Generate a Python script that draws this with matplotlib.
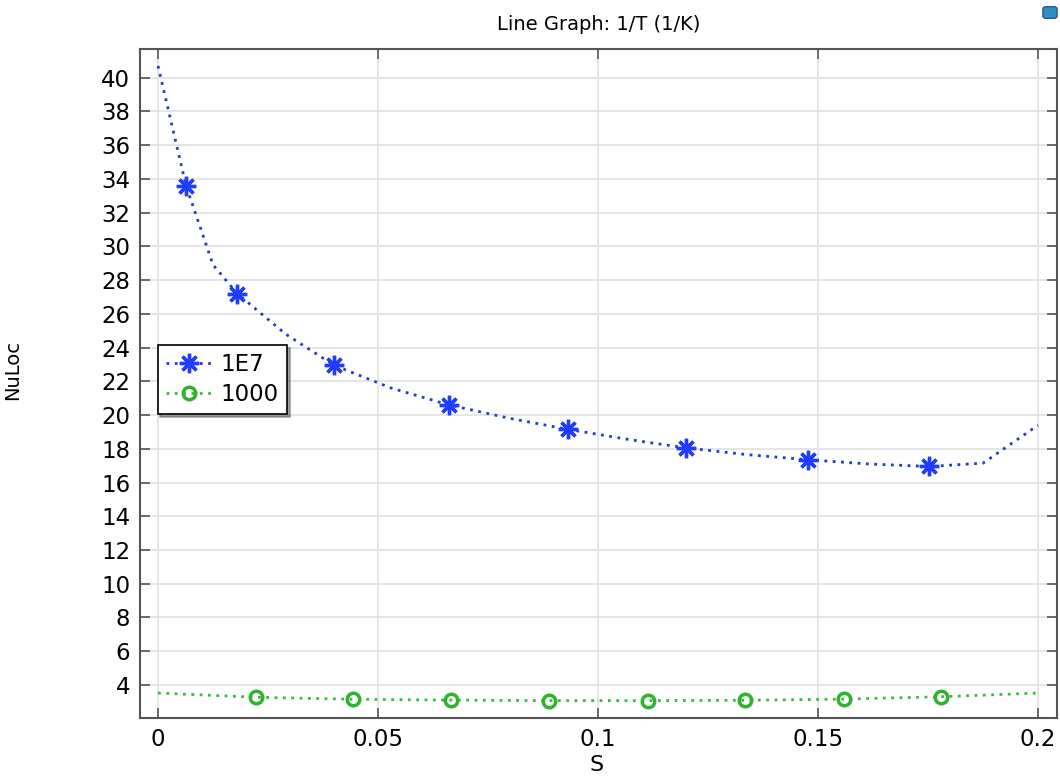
import matplotlib
matplotlib.use("Agg")
import matplotlib.pyplot as plt
import matplotlib.patches as patches

# 1E7 curve (line points) and where the markers sit
s_hi = [0, 0.00636, 0.0125, 0.018, 0.029, 0.040, 0.053, 0.0661, 0.08, 0.0932,
        0.107, 0.12, 0.134, 0.1477, 0.1614, 0.1752, 0.1875, 0.2]
nu_hi = [40.7, 33.6, 28.9, 27.2, 24.8, 22.95, 21.6, 20.6, 19.8, 19.15,
         18.55, 18.05, 17.65, 17.35, 17.1, 16.95, 17.15, 19.4]
marks_hi = [1, 3, 5, 7, 9, 11, 13, 15]

# 1000 curve
s_lo = [0, 0.0222, 0.0444, 0.0666, 0.0889, 0.1114, 0.1333, 0.1558, 0.1779, 0.2]
nu_lo = [3.52, 3.27, 3.15, 3.1, 3.07, 3.07, 3.09, 3.16, 3.3, 3.52]
marks_lo = [1, 2, 3, 4, 5, 6, 7, 8]

xticks = [0, 0.05, 0.1, 0.15, 0.2]
xticklabels = ["0", "0.05", "0.1", "0.15", "0.2"]
yticks = list(range(4, 41, 2))

fig = plt.figure(figsize=(10.6, 7.78), dpi=100)
ax = fig.add_axes([140/1060, 1-718/778, 917/1060, 669/778])

ax.plot(s_hi, nu_hi, color='#2238d0', lw=2.0, ls=(0, (1, 2.0)),
        marker=(8, 2, 0), markevery=marks_hi, ms=14, mew=2.4,
        mec='#1f3cff', mfc='#1f3cff', label='1E7')
ax.plot(s_lo, nu_lo, color='#3cb83c', lw=2.0, ls=(0, (1, 2.0)),
        marker='o', markevery=marks_lo, ms=9, mew=2.5,
        mec='#2db42d', mfc='none', label='1000')

ax.set_xlim(-0.0041, 0.2043)
ax.set_ylim(2.04, 41.7)
ax.set_xticks(xticks)
ax.set_xticklabels(xticklabels)
ax.set_yticks(yticks)
ax.grid(True, color='#e3e3e3', lw=1.3)
ax.set_axisbelow(True)
ax.tick_params(direction='in', length=7, width=1.2, color='#555555',
               top=True, right=True, labelsize=16.5, pad=7)
for sp in ax.spines.values():
    sp.set_color('#555555')
    sp.set_linewidth(1.5)

ax.set_title("Line Graph: 1/T (1/K)", fontsize=14, pad=14)
ax.set_ylabel("NuLoc", fontsize=14)
ax.yaxis.set_label_coords(-118/917, 0.52)
ax.set_xlabel("S", fontsize=16)
ax.xaxis.set_label_coords(0.498, -0.055)

leg = ax.legend(loc='upper left', bbox_to_anchor=(0.0193, 0.5575),
                borderaxespad=0, fancybox=False, shadow=True,
                edgecolor='black', fontsize=16.5, handlelength=2.0,
                handletextpad=0.4, borderpad=0.35, labelspacing=0.3)
leg.get_frame().set_linewidth(1.2)

# small toolbar icon in the corner
icon = patches.FancyBboxPatch((1046/1060, 1-16/778), 8/1060, 7/778,
                              boxstyle='round,pad=0.003', transform=fig.transFigure,
                              facecolor='#2f8fc0', edgecolor='#1d3f8a', lw=0.8)
fig.patches.append(icon)

fig.savefig("out.png", dpi=100)
